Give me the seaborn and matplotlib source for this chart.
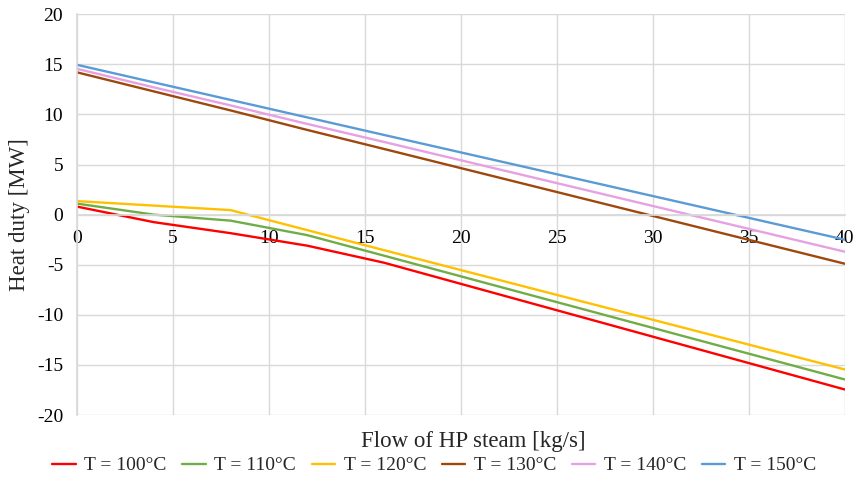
import numpy as np
import pandas as pd
import seaborn as sns
import matplotlib
matplotlib.use("Agg")
import matplotlib.pyplot as plt

# ---- data ----
flow = [0, 4, 8, 12, 16, 40]
t100 = [0.8, -0.75, -1.85, -3.1, -4.8, -17.45]
t110 = [1.1, 0.0, -0.6, -2.05, -4.1, -16.45]
t120 = [1.35, 0.9, 0.45, -1.55, -3.55, -15.45]
t130 = [14.2, 12.3, 10.4, 8.45, 6.55, -4.9]
t140 = [14.55, 12.7, 10.9, 9.05, 7.25, -3.7]
t150 = [14.95, 13.2, 11.45, 9.7, 7.95, -2.5]
labels = ["T = 100°C", "T = 110°C", "T = 120°C", "T = 130°C", "T = 140°C", "T = 150°C"]
colors = ["#FF0000", "#70AD47", "#FFC000", "#9E480E", "#E6A1E3", "#5B9BD5"]

series = [t100, t110, t120, t130, t140, t150]
rows = []
for lab, vals in zip(labels, series):
    for x, y in zip(flow, vals):
        rows.append({"flow": x, "duty": y, "T": lab})
df = pd.DataFrame(rows)

sns.set_theme(style="white")
plt.rcParams["font.family"] = ["Liberation Serif", "DejaVu Serif"]
plt.rcParams["axes.unicode_minus"] = False

fig = plt.figure(figsize=(8.55, 4.9), dpi=100)
ax = fig.add_axes([0.090, 0.153, 0.898, 0.818])

sns.lineplot(data=df, x="flow", y="duty", hue="T", palette=dict(zip(labels, colors)),
             linewidth=1.7, ax=ax, legend=True, sort=False)

ax.set_xlim(0, 40)
ax.set_ylim(-20, 20)
ax.set_xticks(np.arange(0, 41, 5))
ax.set_yticks(np.arange(-20, 21, 5))
ax.grid(True, color="#d9d9d9", linewidth=1.0)
ax.set_axisbelow(True)
for s in ["top", "right"]:
    ax.spines[s].set_visible(False)
ax.spines["left"].set_color("#d9d9d9")
ax.spines["bottom"].set_color("#d9d9d9")
ax.spines["bottom"].set_position(("data", 0))
ax.tick_params(axis="both", length=0, labelsize=14, colors="black")
ax.tick_params(axis="x", pad=11)
ax.tick_params(axis="y", pad=10)

ax.set_xlabel("")
ax.set_ylabel("Heat duty [MW]", fontsize=16.5, labelpad=5)
fig.text(0.553, 0.100, "Flow of HP steam [kg/s]", ha="center", va="center", fontsize=16.5)

handles, labs = ax.get_legend_handles_labels()
ax.get_legend().remove()
fig.legend(handles, labs, loc="center", bbox_to_anchor=(0.508, 0.050), ncol=6, frameon=False,
           fontsize=14, handlelength=1.2, columnspacing=0.8, handletextpad=0.45)

fig.savefig("out.png", dpi=100)
